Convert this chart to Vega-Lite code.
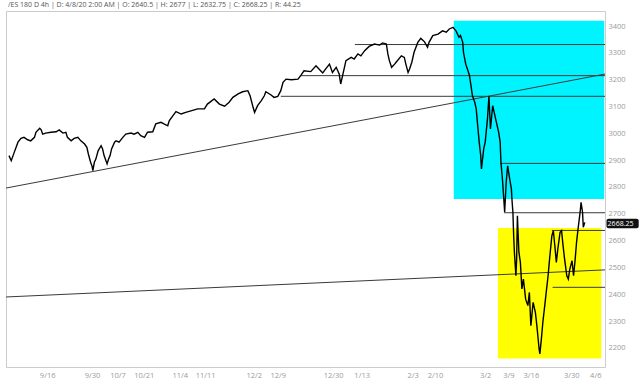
{
  "$schema": "https://vega.github.io/schema/vega-lite/v6.json",
  "width": 599,
  "height": 356,
  "padding": {"left": 5, "top": 1, "right": 0, "bottom": 0},
  "background": "white",
  "title": {
    "text": "/ES 180 D 4h  |  D: 4/8/20 2:00 AM  |  O: 2640.5  |  H: 2677  |  L: 2632.75  |  C: 2668.25  |  R: 44.25",
    "anchor": "start",
    "frame": "group",
    "fontSize": 7,
    "font": "Open Sans",
    "fontWeight": "normal",
    "color": "#555555",
    "offset": 3,
    "dx": 2
  },
  "config": {
    "view": {"stroke": "#cccccc", "strokeWidth": 1},
    "font": "Open Sans"
  },
  "datasets": {
    "price": [
      {"bar":4,"price":2917},{"bar":7,"price":2898},{"bar":11,"price":2929},{"bar":16,"price":2967},{"bar":20,"price":2981},{"bar":24,"price":2985},{"bar":29,"price":2976},{"bar":33,"price":2972},{"bar":38,"price":2985},{"bar":40,"price":3004},{"bar":45,"price":3019},{"bar":47,"price":3013},{"bar":49,"price":2997},{"bar":53,"price":3001},{"bar":60,"price":3004},{"bar":67,"price":3006},{"bar":71,"price":3013},{"bar":76,"price":3001},{"bar":80,"price":3004},{"bar":82,"price":2985},{"bar":87,"price":2972},{"bar":91,"price":2981},{"bar":96,"price":2985},{"bar":100,"price":2972},{"bar":105,"price":2960},{"bar":108,"price":2948},{"bar":110,"price":2923},{"bar":113,"price":2892},{"bar":115,"price":2877},{"bar":116,"price":2861},{"bar":118,"price":2892},{"bar":120,"price":2904},{"bar":123,"price":2935},{"bar":127,"price":2954},{"bar":129,"price":2942},{"bar":131,"price":2917},{"bar":135,"price":2886},{"bar":137,"price":2904},{"bar":139,"price":2917},{"bar":141,"price":2942},{"bar":145,"price":2967},{"bar":147,"price":2972},{"bar":151,"price":2967},{"bar":156,"price":2985},{"bar":160,"price":2997},{"bar":167,"price":3001},{"bar":171,"price":2997},{"bar":176,"price":3004},{"bar":180,"price":2991},{"bar":185,"price":2985},{"bar":189,"price":3004},{"bar":196,"price":3006},{"bar":200,"price":3035},{"bar":207,"price":3041},{"bar":211,"price":3035},{"bar":216,"price":3028},{"bar":218,"price":3047},{"bar":223,"price":3066},{"bar":227,"price":3081},{"bar":234,"price":3072},{"bar":240,"price":3078},{"bar":247,"price":3084},{"bar":256,"price":3091},{"bar":265,"price":3091},{"bar":269,"price":3109},{"bar":278,"price":3128},{"bar":285,"price":3109},{"bar":292,"price":3101},{"bar":298,"price":3116},{"bar":303,"price":3134},{"bar":310,"price":3147},{"bar":316,"price":3155},{"bar":323,"price":3159},{"bar":326,"price":3140},{"bar":330,"price":3097},{"bar":332,"price":3078},{"bar":336,"price":3103},{"bar":341,"price":3122},{"bar":345,"price":3140},{"bar":347,"price":3155},{"bar":354,"price":3143},{"bar":358,"price":3134},{"bar":363,"price":3138},{"bar":367,"price":3159},{"bar":370,"price":3190},{"bar":374,"price":3202},{"bar":381,"price":3200},{"bar":390,"price":3202},{"bar":394,"price":3217},{"bar":398,"price":3233},{"bar":407,"price":3230},{"bar":414,"price":3252},{"bar":418,"price":3240},{"bar":423,"price":3225},{"bar":427,"price":3240},{"bar":432,"price":3258},{"bar":436,"price":3227},{"bar":441,"price":3246},{"bar":445,"price":3221},{"bar":447,"price":3184},{"bar":450,"price":3221},{"bar":454,"price":3271},{"bar":461,"price":3283},{"bar":465,"price":3277},{"bar":470,"price":3296},{"bar":474,"price":3289},{"bar":479,"price":3308},{"bar":485,"price":3324},{"bar":492,"price":3333},{"bar":499,"price":3329},{"bar":503,"price":3337},{"bar":508,"price":3333},{"bar":510,"price":3296},{"bar":512,"price":3271},{"bar":515,"price":3246},{"bar":519,"price":3258},{"bar":521,"price":3265},{"bar":528,"price":3289},{"bar":532,"price":3283},{"bar":534,"price":3258},{"bar":537,"price":3227},{"bar":539,"price":3240},{"bar":542,"price":3265},{"bar":545,"price":3302},{"bar":550,"price":3339},{"bar":554,"price":3354},{"bar":559,"price":3341},{"bar":563,"price":3321},{"bar":565,"price":3339},{"bar":570,"price":3364},{"bar":577,"price":3370},{"bar":583,"price":3382},{"bar":588,"price":3377},{"bar":592,"price":3389},{"bar":597,"price":3395},{"bar":601,"price":3382},{"bar":605,"price":3358},{"bar":607,"price":3365},{"bar":610,"price":3339},{"bar":611,"price":3302},{"bar":614,"price":3258},{"bar":617,"price":3233},{"bar":619,"price":3215},{"bar":621,"price":3178},{"bar":623,"price":3140},{"bar":626,"price":3116},{"bar":628,"price":3091},{"bar":630,"price":3028},{"bar":632,"price":2967},{"bar":634,"price":2917},{"bar":635,"price":2867},{"bar":638,"price":2942},{"bar":640,"price":2967},{"bar":643,"price":3053},{"bar":645,"price":3138},{"bar":647,"price":3016},{"bar":650,"price":3103},{"bar":654,"price":3053},{"bar":658,"price":3004},{"bar":660,"price":2967},{"bar":661,"price":2892},{"bar":663,"price":2830},{"bar":666,"price":2707},{"bar":668,"price":2817},{"bar":670,"price":2879},{"bar":672,"price":2842},{"bar":675,"price":2792},{"bar":676,"price":2743},{"bar":677,"price":2706},{"bar":678,"price":2618},{"bar":679,"price":2557},{"bar":681,"price":2469},{"bar":682,"price":2532},{"bar":683,"price":2693},{"bar":685,"price":2557},{"bar":687,"price":2519},{"bar":689,"price":2420},{"bar":691,"price":2457},{"bar":694,"price":2382},{"bar":697,"price":2358},{"bar":699,"price":2407},{"bar":701,"price":2283},{"bar":704,"price":2370},{"bar":707,"price":2333},{"bar":709,"price":2283},{"bar":712,"price":2196},{"bar":713,"price":2178},{"bar":715,"price":2233},{"bar":717,"price":2296},{"bar":719,"price":2345},{"bar":722,"price":2420},{"bar":724,"price":2469},{"bar":726,"price":2532},{"bar":729,"price":2618},{"bar":731,"price":2637},{"bar":733,"price":2581},{"bar":735,"price":2519},{"bar":737,"price":2569},{"bar":740,"price":2631},{"bar":742,"price":2637},{"bar":744,"price":2581},{"bar":746,"price":2532},{"bar":749,"price":2469},{"bar":751,"price":2457},{"bar":753,"price":2494},{"bar":756,"price":2525},{"bar":758,"price":2469},{"bar":760,"price":2525},{"bar":762,"price":2594},{"bar":764,"price":2643},{"bar":767,"price":2712},{"bar":768,"price":2743},{"bar":770,"price":2706},{"bar":771,"price":2650},{"bar":773,"price":2668.25}
    ],
    "zones": [
      {"bar":598,"bar2":799,"price":3420,"price2":2755,"zone":"cyan"},
      {"bar":657,"bar2":795,"price":2647,"price2":2161,"zone":"yellow"}
    ],
    "levels": [
      {"bar":466,"bar2":800,"price":3331},
      {"bar":394,"bar2":800,"price":3215},
      {"bar":367,"bar2":800,"price":3138},
      {"bar":660,"bar2":800,"price":2888},
      {"bar":665,"bar2":800,"price":2704},
      {"bar":729,"bar2":800,"price":2638},
      {"bar":730,"bar2":800,"price":2426}
    ],
    "trends": [
      {"bar":0,"bar2":800,"price":2796,"price2":3221},
      {"bar":0,"bar2":800,"price":2390,"price2":2491}
    ]
  },
  "layer": [
    {
      "data": {"name": "zones"},
      "mark": {"type": "rect"},
      "encoding": {
        "x": {"field": "bar", "type": "quantitative", "title": null, "scale": {"domain": [0, 800], "nice": false, "zero": false},
          "axis": {"orient": "bottom", "tickCount": 40, "values": [55,115,149,184,232,266,331,363,437,475,543,573,640,671,701,755,787],
            "labelExpr": "['9/16','9/30','10/7','10/21','11/4','11/11','12/2','12/9','12/30','1/13','2/3','2/10','3/2','3/9','3/16','3/30','4/6'][indexof([55,115,149,184,232,266,331,363,437,475,543,573,640,671,701,755,787], datum.value)]",
            "ticks": false, "domain": false, "grid": false, "labelColor": "#9a9a9a", "labelFontSize": 7.5, "labelPadding": 4, "labelFont": "Open Sans", "labelFlush": false, "labelOverlap": false}},
        "x2": {"field": "bar2"},
        "y": {"field": "price", "type": "quantitative", "title": null, "scale": {"domain": [2129, 3456], "nice": false, "zero": false},
          "axis": {"orient": "right", "tickCount": 20, "values": [2200,2300,2400,2500,2600,2700,2800,2900,3000,3100,3200,3300,3400], "format": "d",
            "ticks": false, "domain": false, "grid": false, "labelColor": "#9a9a9a", "labelFontSize": 7.5, "labelPadding": 3, "labelFont": "Open Sans", "labelOverlap": false}},
        "y2": {"field": "price2"},
        "color": {"field": "zone", "type": "nominal", "scale": {"domain": ["cyan", "yellow"], "range": ["#00f4ff", "#ffff00"]}, "legend": null}
      }
    },
    {
      "data": {"name": "levels"},
      "mark": {"type": "rule", "color": "#3a3a3a", "strokeWidth": 1},
      "encoding": {
        "x": {"field": "bar", "type": "quantitative", "title": null, "scale": {"domain": [0, 800], "nice": false, "zero": false}},
        "x2": {"field": "bar2"},
        "y": {"field": "price", "type": "quantitative", "title": null, "scale": {"domain": [2129, 3456], "nice": false, "zero": false}}
      }
    },
    {
      "data": {"name": "trends"},
      "mark": {"type": "rule", "color": "#3a3a3a", "strokeWidth": 1},
      "encoding": {
        "x": {"field": "bar", "type": "quantitative", "title": null, "scale": {"domain": [0, 800], "nice": false, "zero": false}},
        "x2": {"field": "bar2"},
        "y": {"field": "price", "type": "quantitative", "title": null, "scale": {"domain": [2129, 3456], "nice": false, "zero": false}},
        "y2": {"field": "price2"}
      }
    },
    {
      "data": {"name": "price"},
      "mark": {"type": "line", "color": "#000000", "strokeWidth": 1.4, "strokeJoin": "miter"},
      "encoding": {
        "x": {"field": "bar", "type": "quantitative", "title": null, "scale": {"domain": [0, 800], "nice": false, "zero": false}},
        "y": {"field": "price", "type": "quantitative", "title": null, "scale": {"domain": [2129, 3456], "nice": false, "zero": false}}
      }
    },
    {
      "data": {"values": [{"close": 2668.25}]},
      "mark": {"type": "rect", "color": "#111111", "cornerRadius": 2},
      "encoding": {
        "x": {"datum": 802, "type": "quantitative", "scale": {"domain": [0, 800], "nice": false, "zero": false}},
        "x2": {"datum": 845},
        "y": {"datum": 2682, "type": "quantitative", "scale": {"domain": [2129, 3456], "nice": false, "zero": false}},
        "y2": {"datum": 2646}
      }
    },
    {
      "data": {"values": [{"close": 2668.25}]},
      "mark": {"type": "text", "color": "#ffffff", "fontSize": 7, "align": "left", "baseline": "middle", "font": "Open Sans", "dy": 0.5},
      "encoding": {
        "x": {"datum": 803.5, "type": "quantitative", "scale": {"domain": [0, 800], "nice": false, "zero": false}},
        "y": {"datum": 2664, "type": "quantitative", "scale": {"domain": [2129, 3456], "nice": false, "zero": false}},
        "text": {"field": "close", "type": "quantitative", "format": ".2f"}
      }
    }
  ]
}
